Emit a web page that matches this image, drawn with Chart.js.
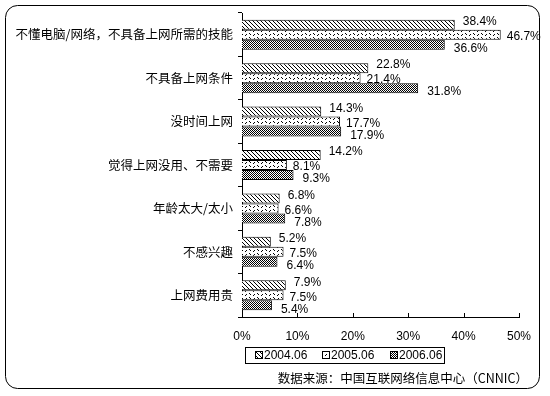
<!DOCTYPE html>
<html lang="zh">
<head>
<meta charset="UTF-8">
<title>不上网的原因</title>
<script src="https://cdn.jsdelivr.net/npm/chart.js@4.4.0/dist/chart.umd.min.js"></script>
<style>
  html, body { margin: 0; padding: 0; background: #fff; }
  #wrap { width: 550px; height: 396px; position: relative; }
</style>
</head>
<body>
<div id="wrap"><canvas id="c"></canvas></div>
<script>
// 数据
const categories = [
  '不懂电脑/网络，不具备上网所需的技能',
  '不具备上网条件',
  '没时间上网',
  '觉得上网没用、不需要',
  '年龄太大/太小',
  '不感兴趣',
  '上网费用贵'
];
const seriesNames = ['2004.06', '2005.06', '2006.06'];
const v2004 = [38.4, 22.8, 14.3, 14.2, 6.8, 5.2, 7.9];
const v2005 = [46.7, 21.4, 17.7, 8.1, 6.6, 7.5, 7.5];
const v2006 = [36.6, 31.8, 17.9, 9.3, 7.8, 6.4, 5.4];
const xTicks = [0, 10, 20, 30, 40, 50];
const sourceText = '数据来源：中国互联网络信息中心（CNNIC）';

const CJK = '"Noto Sans CJK SC", sans-serif';
const NUM = '"Liberation Sans", Arial, sans-serif';

// 填充图案
function makePattern(kind) {
  const p = document.createElement('canvas');
  const c = p.getContext('2d');
  if (kind === 'hatch') {
    p.width = 4; p.height = 4;
    c.fillStyle = '#fff'; c.fillRect(0, 0, 4, 4);
    c.fillStyle = '#000';
    for (let i = 0; i < 4; i++) c.fillRect(i, i, 1, 1);
  } else if (kind === 'dots') {
    p.width = 8; p.height = 4;
    c.fillStyle = '#fff'; c.fillRect(0, 0, 8, 4);
    c.fillStyle = '#000';
    c.fillRect(1, 1, 1, 1); c.fillRect(2, 2, 1, 1);
    c.fillRect(5, 3, 1, 1); c.fillRect(6, 2, 1, 1);
  } else {
    p.width = 2; p.height = 2;
    c.fillStyle = '#fff'; c.fillRect(0, 0, 2, 2);
    c.fillStyle = '#000';
    c.fillRect(0, 0, 1, 1); c.fillRect(1, 1, 1, 1);
  }
  return c.createPattern(p, 'repeat');
}
const fills = [makePattern('hatch'), makePattern('dots'), makePattern('check')];
// 标签相对柱端的偏移
const labelDx = [8, 6, 9];
const labelDy = [-3, 2, 4];

// 圆角外框
const framePlugin = {
  id: 'frame',
  beforeDraw(chart) {
    const ctx = chart.ctx;
    ctx.save();
    ctx.fillStyle = '#fff';
    ctx.fillRect(0, 0, chart.width, chart.height);
    ctx.strokeStyle = '#000';
    ctx.lineWidth = 1;
    ctx.beginPath();
    ctx.roundRect(5.5, 5.5, 534, 383, 12);
    ctx.stroke();
    ctx.restore();
  }
};

// 数值标签、内侧刻度、图例、来源
const extrasPlugin = {
  id: 'extras',
  afterDraw(chart) {
    const ctx = chart.ctx;
    const xs = chart.scales.x;
    const area = chart.chartArea;
    ctx.save();
    // x 轴内侧刻度
    ctx.strokeStyle = '#000';
    ctx.lineWidth = 1;
    xTicks.forEach(t => {
      const px = Math.round(xs.getPixelForValue(t)) + 0.5;
      ctx.beginPath();
      ctx.moveTo(px, area.bottom);
      ctx.lineTo(px, area.bottom - 4);
      ctx.stroke();
    });
    // 数值标签
    ctx.fillStyle = '#000';
    ctx.font = '12px ' + NUM;
    ctx.textBaseline = 'middle';
    ctx.textAlign = 'left';
    chart.data.datasets.forEach((ds, i) => {
      chart.getDatasetMeta(i).data.forEach((bar, j) => {
        ctx.fillText(ds.data[j].toFixed(1) + '%', bar.x + labelDx[i], bar.y + labelDy[i]);
      });
    });
    // 图例
    ctx.strokeRect(245.5, 347.5, 199, 16);
    const lx = [255, 322, 390];
    chart.data.datasets.forEach((ds, i) => {
      ctx.fillStyle = ds.backgroundColor;
      ctx.fillRect(lx[i], 351, 8, 8);
      ctx.strokeRect(lx[i] + 0.5, 351.5, 7, 7);
      ctx.fillStyle = '#000';
      ctx.font = '12px ' + NUM;
      ctx.fillText(ds.label, lx[i] + 9, 356);
    });
    // 来源
    ctx.font = '12.5px ' + CJK;
    ctx.textAlign = 'right';
    ctx.fillText(sourceText, 528, 378);
    ctx.restore();
  }
};

const datasets = [v2004, v2005, v2006].map((vals, i) => ({
  label: seriesNames[i],
  data: vals,
  backgroundColor: fills[i],
  borderColor: '#000',
  borderWidth: 1,
  borderSkipped: 'left',
  barPercentage: 1,
  categoryPercentage: 0.69
}));

new Chart(document.getElementById('c'), {
  type: 'bar',
  data: { labels: categories, datasets },
  options: {
    indexAxis: 'y',
    responsive: true,
    maintainAspectRatio: false,
    animation: false,
    layout: { padding: { top: 13, right: 31, left: 0, bottom: 0 } },
    plugins: {
      legend: { display: false },
      tooltip: { enabled: false }
    },
    scales: {
      x: {
        min: 0,
        max: 50,
        afterFit(scale) { scale.height = 79; },
        afterBuildTicks(scale) { scale.ticks = xTicks.map(v => ({ value: v })); },
        grid: { display: false, drawTicks: false },
        border: { color: '#000', width: 1 },
        ticks: {
          padding: 12,
          color: '#000',
          font: { size: 12, family: NUM },
          callback: v => v + '%'
        }
      },
      y: {
        afterFit(scale) { scale.width = 242; },
        grid: { drawOnChartArea: false, drawTicks: true, tickLength: 4, color: '#000', offset: true },
        border: { color: '#000', width: 1 },
        ticks: {
          padding: 5,
          color: '#000',
          font: { size: 12.5, family: CJK }
        }
      }
    }
  },
  plugins: [framePlugin, extrasPlugin]
});
</script>
</body>
</html>
